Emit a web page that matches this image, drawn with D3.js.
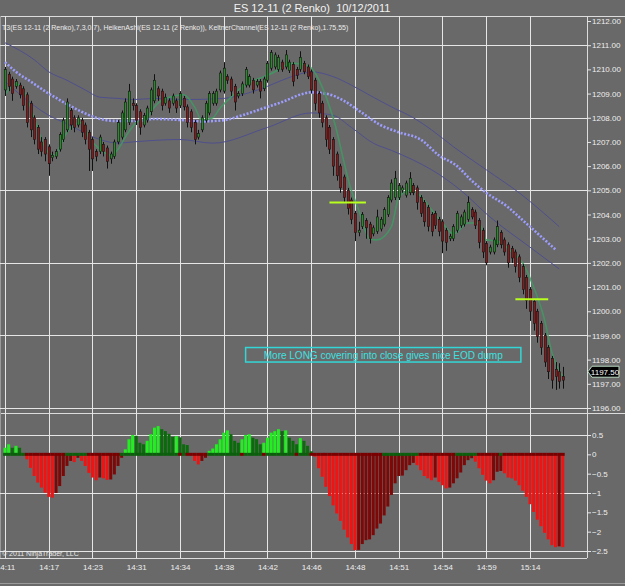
<!DOCTYPE html>
<html>
<head>
<meta charset="utf-8">
<script src="https://cdn.jsdelivr.net/npm/d3@7"></script>
<style>
  body { margin: 0; background: #696969; }
  svg { display: block; }
  text { font-family: "Liberation Sans", Arial, sans-serif; }
</style>
</head>
<body>
<svg id="chart"></svg>
<script>
// Heiken Ashi bars on 2 tick renko, one value per bar
var open = [1209.15,1209.8,1209.6,1209.3,1209.35,1209.2,1208.95,1208.6,1208.0,1207.6,
  1207.0,1207.1,1206.8,1206.35,1206.4,1206.7,1207.1,1207.5,1208.3,1208.0,
  1207.7,1207.9,1207.7,1207.4,1207.1,1206.6,1206.6,1206.9,1206.75,1206.3,
  1206.4,1207.0,1207.2,1207.5,1207.8,1208.6,1208.5,1208.25,1207.7,1207.9,
  1208.25,1208.7,1209.2,1209.1,1208.6,1208.7,1208.6,1208.7,1208.5,1208.8,
  1208.45,1208.25,1207.8,1207.2,1207.5,1207.9,1208.2,1208.6,1208.6,1209.15,
  1209.1,1209.7,1209.6,1209.3,1208.9,1209.0,1209.35,1209.35,1209.55,1209.35,
  1209.5,1209.2,1209.55,1210.05,1210.1,1210.0,1210.3,1210.1,1209.95,1210.2,
  1210.0,1210.0,1210.25,1210.1,1209.9,1209.55,1209.0,1208.6,1208.0,1207.6,
  1207.1,1206.5,1206.0,1205.55,1205.0,1204.6,1204.05,1203.25,1203.5,1203.75,
  1203.6,1203.2,1203.3,1203.4,1203.6,1204.0,1204.6,1204.7,1204.7,1205.0,
  1204.8,1204.9,1205.2,1205.1,1204.7,1204.5,1204.3,1204.0,1204.05,1203.8,
  1203.7,1203.35,1203.0,1203.0,1203.35,1203.55,1203.6,1203.8,1204.2,1204.1,
  1203.75,1203.35,1202.8,1202.45,1202.45,1202.75,1203.25,1202.95,1202.75,1202.6,
  1202.45,1202.25,1201.85,1201.4,1200.9,1200.4,1200.0,1199.5,1199.0,1198.5,
  1198.05,1197.6,1197.5,1197.3];
var close = [1210.0,1209.3,1209.0,1209.5,1208.95,1208.5,1207.8,1207.5,1207.1,1206.7,
  1206.6,1206.5,1206.1,1206.45,1206.6,1207.3,1207.9,1208.65,1207.7,1207.6,
  1208.0,1207.4,1207.1,1206.7,1206.3,1206.4,1207.2,1206.6,1206.2,1206.5,
  1207.0,1207.8,1208.2,1208.65,1209.1,1208.5,1207.9,1207.6,1208.1,1208.4,
  1209.15,1209.55,1208.9,1208.5,1208.85,1208.4,1208.9,1208.4,1209.0,1208.45,
  1207.8,1207.6,1207.1,1207.35,1208.0,1208.6,1209.0,1209.0,1209.1,1209.85,
  1210.05,1209.55,1209.1,1208.65,1209.0,1209.4,1210.0,1209.7,1209.15,1209.5,
  1209.1,1209.6,1210.25,1210.7,1210.6,1210.5,1210.0,1210.6,1210.3,1209.5,
  1209.75,1210.5,1209.9,1209.7,1209.15,1208.6,1208.2,1207.8,1207.1,1206.7,
  1206.0,1205.6,1205.1,1204.7,1204.25,1203.8,1203.25,1203.35,1204.0,1203.45,
  1203.0,1203.45,1203.9,1203.8,1204.2,1204.7,1205.3,1205.5,1205.2,1205.1,
  1205.3,1205.5,1204.9,1204.5,1204.05,1203.7,1203.5,1203.3,1203.55,1203.3,
  1202.9,1202.85,1203.1,1203.5,1204.05,1203.9,1204.1,1204.5,1203.9,1203.55,
  1202.85,1202.45,1202.0,1202.65,1202.95,1203.5,1202.75,1202.45,1202.0,1202.2,
  1201.85,1201.4,1200.9,1200.45,1200.0,1199.5,1198.95,1198.5,1197.9,1197.5,
  1197.15,1197.3,1197.1,1197.15];
var high = [1210.1,1209.9,1209.7,1209.6,1209.45,1209.3,1209.05,1208.7,1208.1,1207.7,
  1207.2,1207.2,1206.9,1206.6,1206.7,1207.4,1208.0,1208.8,1208.4,1208.1,
  1208.1,1208.0,1207.8,1207.5,1207.2,1206.7,1207.3,1207.0,1206.85,1206.6,
  1207.1,1207.9,1208.3,1208.8,1209.4,1208.8,1208.6,1208.35,1208.2,1208.5,
  1209.25,1209.8,1209.3,1209.2,1209.0,1208.8,1209.0,1208.8,1209.1,1208.9,
  1208.55,1208.35,1207.9,1207.5,1208.1,1208.7,1209.1,1209.1,1209.2,1209.95,
  1210.3,1209.8,1209.7,1209.4,1209.1,1209.5,1210.1,1209.8,1209.65,1209.6,
  1209.6,1209.7,1210.35,1210.8,1210.7,1210.6,1210.4,1210.8,1210.4,1210.3,
  1210.1,1210.75,1210.35,1210.2,1210.0,1209.65,1209.1,1208.7,1208.1,1207.7,
  1207.2,1206.6,1206.1,1205.65,1205.1,1204.7,1204.15,1203.7,1204.1,1203.85,
  1203.7,1203.55,1204.2,1203.9,1204.3,1204.8,1205.45,1205.8,1205.3,1205.2,
  1205.4,1205.75,1205.3,1205.2,1204.8,1204.6,1204.4,1204.1,1204.15,1203.9,
  1203.8,1203.45,1203.2,1203.6,1204.15,1204.0,1204.2,1204.75,1204.3,1204.2,
  1203.85,1203.45,1202.9,1202.75,1203.05,1203.75,1203.35,1203.05,1202.85,1202.7,
  1202.55,1202.35,1201.95,1201.5,1201.0,1200.5,1200.1,1199.6,1199.1,1198.6,
  1198.15,1197.9,1197.85,1197.7];
var low = [1208.9,1209.1,1208.7,1209.2,1208.8,1208.3,1207.6,1207.2,1206.9,1206.5,
  1206.4,1206.2,1205.6,1206.2,1206.3,1206.6,1207.0,1207.4,1207.5,1207.4,
  1207.6,1207.2,1206.9,1205.8,1205.8,1206.2,1206.5,1206.4,1205.9,1206.1,
  1206.3,1206.9,1207.1,1207.4,1207.7,1208.3,1207.7,1207.3,1207.6,1207.8,
  1208.1,1208.6,1208.7,1208.3,1208.5,1208.2,1208.5,1208.2,1208.4,1208.3,
  1207.6,1207.4,1206.9,1207.1,1207.4,1207.8,1208.1,1208.5,1208.5,1209.05,
  1209.0,1209.4,1208.9,1208.3,1208.8,1208.9,1209.25,1209.25,1209.0,1209.25,
  1208.8,1209.1,1209.45,1209.95,1210.0,1209.9,1209.9,1210.0,1209.85,1209.3,
  1209.6,1209.9,1209.8,1209.6,1209.0,1208.3,1208.0,1207.6,1206.8,1206.5,
  1205.6,1205.4,1204.9,1204.5,1204.0,1203.6,1202.9,1203.1,1203.4,1203.0,
  1202.8,1203.1,1203.2,1203.3,1203.5,1203.9,1204.5,1204.6,1204.6,1204.9,
  1204.7,1204.8,1204.8,1204.2,1203.9,1203.5,1203.3,1203.1,1203.4,1203.1,
  1202.4,1202.5,1202.9,1202.9,1203.25,1203.45,1203.5,1203.7,1203.8,1203.4,
  1202.6,1202.2,1201.9,1202.35,1202.35,1202.65,1202.6,1202.3,1201.8,1202.0,
  1201.6,1201.2,1200.7,1200.1,1199.6,1199.2,1198.7,1198.2,1197.7,1197.2,
  1196.8,1196.75,1196.8,1196.8];

// lower panel histogram, one value per bar
var histogram = [0.17,0.26,0.17,0.22,0.17,-0.03,-0.13,-0.35,-0.56,-0.73,
  -0.86,-0.99,-1.1,-1.12,-1.0,-0.82,-0.56,-0.3,-0.17,-0.2,
  -0.09,-0.17,-0.3,-0.48,-0.6,-0.67,-0.6,-0.62,-0.66,-0.65,
  -0.52,-0.3,-0.09,0.13,0.39,0.5,0.48,0.3,0.26,0.35,
  0.52,0.69,0.73,0.65,0.6,0.53,0.45,0.47,0.44,0.26,
  0.24,-0.02,-0.17,-0.26,-0.17,-0.09,0.09,0.15,0.26,0.39,
  0.56,0.62,0.52,0.35,0.3,0.39,0.5,0.52,0.43,0.39,
  0.26,0.3,0.43,0.56,0.6,0.65,0.6,0.62,0.43,0.35,
  0.26,0.42,0.35,0.22,0.08,-0.06,-0.36,-0.58,-0.84,-1.08,
  -1.32,-1.53,-1.72,-1.95,-2.15,-2.32,-2.48,-2.47,-2.32,-2.22,
  -2.2,-2.09,-1.92,-1.79,-1.58,-1.35,-1.05,-0.75,-0.56,-0.55,
  -0.41,-0.28,-0.22,-0.28,-0.41,-0.56,-0.62,-0.67,-0.6,-0.71,
  -0.8,-0.88,-0.86,-0.75,-0.62,-0.47,-0.28,-0.15,-0.1,-0.19,
  -0.36,-0.53,-0.68,-0.75,-0.67,-0.45,-0.43,-0.49,-0.6,-0.62,
  -0.68,-0.8,-0.94,-1.1,-1.29,-1.49,-1.69,-1.86,-2.03,-2.2,
  -2.35,-2.4,-2.38,-2.4];
// bar ranges where the zero line is dark red (rest dark green)
var zeroRed = [[6,16],[23,31],[48,48],[50,55],[65,65],[71,71],[80,80],
  [84,103],[114,123],[130,135],[137,153]];

// indicator lines read as [bar, price]
var t3Line = [[0,1208.95],[3,1209.4],[5,1209.15],[8,1208.0],[10,1207.1],[12,1206.55],
  [14,1206.45],[15,1206.8],[17,1207.4],[21,1207.8],[23,1207.2],[26,1206.7],[29,1206.45],
  [31,1206.7],[33,1207.2],[36,1207.8],[39,1208.0],[41,1208.45],[44,1208.8],[49,1208.95],
  [52,1208.45],[54,1207.9],[57,1208.0],[59,1208.4],[62,1208.85],[64,1209.15],[67,1209.45],
  [71,1209.7],[74,1209.9],[76,1210.1],[79,1210.25],[82,1210.2],[84,1210.05],[90,1208.0],
  [95,1205.0],[97,1204.2],[100,1203.0],[102,1202.95],[106,1203.5],[108,1204.7],[111,1205.0],
  [113,1204.9],[117,1204.2],[120,1203.65],[123,1203.2],[127,1203.65],[130,1203.65],
  [132,1202.95],[135,1202.9],[139,1202.45],[142,1202.0],[145,1201.0],[148,1199.65],
  [150,1198.3],[153,1197.3]];
var keltnerMid = [[0,1210.3],[3,1209.9],[7,1209.5],[12,1209.0],[16,1208.65],[21,1208.25],
  [25,1208.0],[30,1207.87],[35,1207.87],[41,1207.95],[49,1207.9],[54,1207.85],[60,1207.9],
  [65,1208.1],[71,1208.4],[76,1208.65],[82,1209.0],[84,1209.05],[88,1209.0],[93,1208.7],
  [97,1208.3],[103,1207.7],[108,1207.4],[114,1207.1],[119,1206.45],[124,1206.0],
  [128,1205.4],[132,1204.9],[138,1204.3],[141,1203.9],[151,1202.55]];
var keltnerUpper = [[0,1211.1],[8,1210.4],[12,1209.9],[17,1209.55],[22,1209.15],[26,1208.85],
  [31,1208.8],[35,1208.75],[41,1208.8],[49,1208.75],[60,1208.8],[65,1208.95],[72,1209.3],
  [76,1209.55],[82,1209.85],[84,1209.9],[90,1209.7],[95,1209.35],[101,1208.85],
  [106,1208.45],[112,1208.0],[117,1207.5],[123,1206.8],[132,1205.85],[141,1204.9],
  [152,1203.5]];
var keltnerLower = [[0,1209.5],[8,1208.5],[12,1208.1],[17,1207.75],[26,1207.1],[31,1206.95],
  [35,1207.0],[48,1207.1],[57,1206.95],[72,1207.6],[84,1208.2],[90,1208.1],[95,1207.6],
  [101,1206.95],[106,1206.65],[112,1206.25],[117,1205.85],[125,1205.0],[133,1203.9],
  [144,1202.65],[152,1201.75]];

// time axis: a label every 12 bars
var timeBars = [0,12,24,36,48,60,72,84,96,108,120,132,144];
var timeLabels = ["14:11","14:17","14:23","14:31","14:34","14:38","14:42","14:46",
  "14:48","14:51","14:54","14:59","15:14"];
var priceTicks = d3.range(1196, 1213, 1);
var priceGrid = [1196, 1199, 1202, 1205, 1208, 1211];
var histTicks = [0.5, 0, -0.5, -1, -1.5, -2, -2.5];
var histGrid = [0.5, -1, -2.5];

// drawn levels and note
var levelPrice = [1204.5, 1200.5];
var levelFrom = [89, 140];
var levelTo = [99, 149];
var noteText = "More LONG covering into close gives nice EOD dump";
var lastPrice = 1197.5;

var chartTitle = "ES 12-11 (2 Renko)  10/12/2011";
var indicatorLabel = "T3(ES 12-11 (2 Renko),7,3,0.7), HeikenAshi(ES 12-11 (2 Renko)), KeltnerChannel(ES 12-11 (2 Renko),1.75,55)";

var width = 625, height = 586;
var axisX = 587;
var priceTop = 16, priceBottom = 413;
var histTop = 415, histBottom = 558;

var svg = d3.select("#chart").attr("width", width).attr("height", height);
svg.append("rect").attr("width", width).attr("height", height).attr("fill", "#696969");

var x = d3.scaleLinear().domain([0, 153]).range([5, 562.8]);
var y = d3.scaleLinear().domain([1196, 1212]).range([408, 21]);
var yh = d3.scaleLinear().domain([-2.5, 0.5]).range([551, 435]);

var defs = svg.append("defs");
defs.append("clipPath").attr("id", "clipPrice").append("rect")
  .attr("x", 0).attr("y", priceTop).attr("width", axisX).attr("height", priceBottom - priceTop);
defs.append("clipPath").attr("id", "clipHist").append("rect")
  .attr("x", 0).attr("y", histTop).attr("width", axisX).attr("height", histBottom - histTop);

// title
svg.append("text")
  .attr("x", 312).attr("y", 12)
  .attr("text-anchor", "middle")
  .style("white-space", "pre")
  .attr("font-size", 11).attr("fill", "#f2f2f2")
  .text(chartTitle);

// frame lines
var frame = svg.append("g").attr("stroke", "#dcdcdc").attr("stroke-width", 1);
frame.append("line").attr("x1", 0).attr("x2", width).attr("y1", priceTop + 0.5).attr("y2", priceTop + 0.5);
frame.append("line").attr("x1", 0).attr("x2", width).attr("y1", histTop - 1.5).attr("y2", histTop - 1.5);
frame.append("line").attr("x1", 0).attr("x2", axisX).attr("y1", histBottom + 0.5).attr("y2", histBottom + 0.5);
frame.append("line").attr("x1", 0).attr("x2", width).attr("y1", 583.5).attr("y2", 583.5).attr("stroke", "#9a9a9a");
frame.append("line").attr("x1", axisX + 0.5).attr("x2", axisX + 0.5).attr("y1", priceTop).attr("y2", histBottom);
frame.append("line").attr("x1", 0.5).attr("x2", 0.5).attr("y1", priceTop).attr("y2", histBottom).attr("stroke", "#9a9a9a");

// grid
var grid = svg.append("g").attr("stroke", "#e6e6e6").attr("stroke-width", 1);
grid.selectAll(".vg").data(timeBars).enter().append("line")
  .attr("x1", function (d) { return Math.round(x(d)) + 0.5; })
  .attr("x2", function (d) { return Math.round(x(d)) + 0.5; })
  .attr("y1", priceTop).attr("y2", histBottom);
grid.selectAll(".hg").data(priceGrid).enter().append("line")
  .attr("x1", 0).attr("x2", axisX)
  .attr("y1", function (d) { return Math.round(y(d)) + 0.5; })
  .attr("y2", function (d) { return Math.round(y(d)) + 0.5; });
grid.selectAll(".hh").data(histGrid).enter().append("line")
  .attr("x1", 0).attr("x2", axisX)
  .attr("y1", function (d) { return Math.round(yh(d)) + 0.5; })
  .attr("y2", function (d) { return Math.round(yh(d)) + 0.5; });

// price axis
var priceAxis = svg.append("g")
  .attr("transform", "translate(" + axisX + ",0)")
  .call(d3.axisRight(y).tickValues(priceTicks).tickFormat(d3.format(".2f")).tickSize(4).tickPadding(1));
var histAxis = svg.append("g")
  .attr("transform", "translate(" + axisX + ",0)")
  .call(d3.axisRight(yh).tickValues(histTicks).tickFormat(d3.format("")).tickSize(4).tickPadding(1));
[priceAxis, histAxis].forEach(function (a) {
  a.select(".domain").remove();
  a.selectAll("line").attr("stroke", "#e6e6e6");
  a.selectAll("text").attr("fill", "#eeeeee").attr("font-size", 8)
    .style("font-family", "\"Liberation Sans\", Arial, sans-serif");
});

// time axis
var timeAxis = svg.append("g")
  .attr("transform", "translate(0," + histBottom + ")")
  .call(d3.axisBottom(x).tickValues(timeBars)
    .tickFormat(function (d, i) { return timeLabels[i]; }).tickSize(0).tickPadding(6));
timeAxis.select(".domain").remove();
timeAxis.selectAll("text").attr("fill", "#eeeeee").attr("font-size", 8)
  .style("font-family", "\"Liberation Sans\", Arial, sans-serif");

// price panel
var price = svg.append("g").attr("clip-path", "url(#clipPrice)");
var curve = d3.line()
  .x(function (d) { return x(d[0]); })
  .y(function (d) { return y(d[1]); })
  .curve(d3.curveMonotoneX);

price.append("path").datum(keltnerUpper).attr("d", curve)
  .attr("fill", "none").attr("stroke", "#4f4f8e").attr("stroke-width", 1);
price.append("path").datum(keltnerLower).attr("d", curve)
  .attr("fill", "none").attr("stroke", "#4f4f8e").attr("stroke-width", 1);
price.append("path").datum(keltnerMid).attr("d", curve)
  .attr("fill", "none").attr("stroke", "#9d9dff").attr("stroke-width", 2.6)
  .attr("stroke-dasharray", "2,1.65");
price.append("path").datum(t3Line).attr("d", curve)
  .attr("fill", "none").attr("stroke", "#3f9a63").attr("stroke-width", 1.6)
  .attr("stroke-opacity", 0.85);

var bars = price.append("g").selectAll("g").data(d3.range(open.length)).enter().append("g");
bars.append("line")
  .attr("x1", function (i) { return Math.round(x(i)) + 0.5; })
  .attr("x2", function (i) { return Math.round(x(i)) + 0.5; })
  .attr("y1", function (i) { return y(high[i]); })
  .attr("y2", function (i) { return y(low[i]); })
  .attr("stroke", "#111").attr("stroke-width", 1);
bars.append("rect")
  .attr("x", function (i) { return Math.round(x(i)) - 0.6; })
  .attr("width", 2.2)
  .attr("y", function (i) { return y(Math.max(open[i], close[i])); })
  .attr("height", function (i) { return Math.max(1, Math.abs(y(open[i]) - y(close[i]))); })
  .attr("fill", function (i) { return close[i] >= open[i] ? "#2b8a2b" : "#861b1b"; })
  .attr("stroke", "#141414").attr("stroke-width", 0.6);

// drawn horizontal levels
price.selectAll(".lvl").data(levelPrice).enter().append("line")
  .attr("x1", function (d, i) { return x(levelFrom[i]); })
  .attr("x2", function (d, i) { return x(levelTo[i]); })
  .attr("y1", function (d) { return y(d); })
  .attr("y2", function (d) { return y(d); })
  .attr("stroke", "#b8ff1e").attr("stroke-width", 2);

// note box
price.append("rect")
  .attr("x", x(66)).attr("y", y(1198.5))
  .attr("width", x(141.5) - x(66)).attr("height", y(1197.9) - y(1198.5))
  .attr("fill", "none").attr("stroke", "#33d6d6").attr("stroke-width", 1.5);
price.append("text")
  .attr("x", (x(66) + x(141.5)) / 2).attr("y", y(1197.9) - 3.5)
  .attr("text-anchor", "middle").attr("font-size", 10).attr("fill", "#3fe0e0")
  .text(noteText);

// indicator label
svg.append("text").attr("x", 2).attr("y", 30)
  .attr("font-size", 7).attr("fill", "#ececec").text(indicatorLabel);

// last price marker
var ly = y(lastPrice);
svg.append("path")
  .attr("d", "M" + (axisX + 1) + "," + ly + "L" + (axisX + 5) + "," + (ly - 5.5) +
    "L619," + (ly - 5.5) + "L619," + (ly + 5.5) + "L" + (axisX + 5) + "," + (ly + 5.5) + "Z")
  .attr("fill", "#000").attr("stroke", "#b8d8c0").attr("stroke-width", 1);
svg.append("text").attr("x", 605).attr("y", ly + 3)
  .attr("text-anchor", "middle").attr("font-size", 8).attr("fill", "#fff")
  .text(d3.format(".2f")(lastPrice));

// histogram panel
var hist = svg.append("g").attr("clip-path", "url(#clipHist)");
function barColor(v, i) {
  var prev = i > 0 ? histogram[i - 1] : 0;
  if (v >= 0) return v >= prev ? "#22ee22" : "#0b6a0b";
  return v <= prev ? "#ee1414" : "#7c0808";
}
hist.selectAll(".hb").data(histogram).enter().append("rect")
  .attr("x", function (d, i) { return x(i) - 1.5; })
  .attr("width", 3)
  .attr("y", function (d) { return d >= 0 ? yh(d) : yh(0); })
  .attr("height", function (d) { return Math.abs(yh(d) - yh(0)); })
  .attr("fill", barColor);

function isZeroRed(i) {
  return zeroRed.some(function (r) { return i >= r[0] && i <= r[1]; });
}
hist.selectAll(".zr").data(histogram).enter().append("rect")
  .attr("x", function (d, i) { return x(i) - 1.9; })
  .attr("width", 3.8)
  .attr("y", yh(0) - 1.5).attr("height", 3)
  .attr("fill", function (d, i) { return isZeroRed(i) ? "#7a0000" : "#0b5e0b"; });

svg.append("text").attr("x", 2).attr("y", 556)
  .attr("font-size", 7).attr("fill", "#e8e8e8")
  .text("\u00a9 2011 NinjaTrader, LLC");
</script>
</body>
</html>
